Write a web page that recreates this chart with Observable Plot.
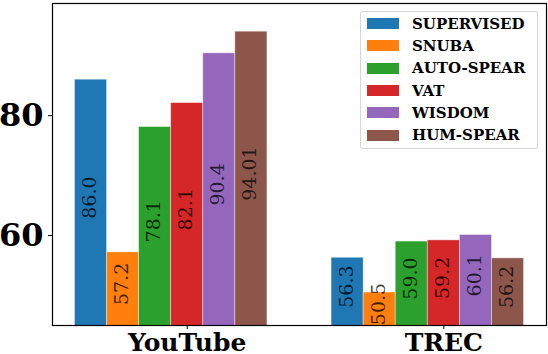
<!DOCTYPE html>
<html>
<head>
<meta charset="utf-8">
<script src="https://cdn.jsdelivr.net/npm/d3@7"></script>
<script src="https://cdn.jsdelivr.net/npm/@observablehq/plot@0.6"></script>
<style>
  html, body { margin: 0; padding: 0; background: #fff; }
  #wrap { position: relative; width: 548px; height: 354px; overflow: hidden; }
  #legend { position: absolute; left: 360px; top: 11px; width: 178px; height: 138px;
    border: 1px solid rgba(204,204,204,0.8); border-radius: 3px; background: rgba(255,255,255,0.8);
    box-sizing: border-box; }
  .row { position: absolute; left: 0; height: 22px; display: flex; align-items: center; }
  .sw { width: 32px; height: 11px; margin-left: 6px; margin-right: 13px; }
  .lb { font-family: "DejaVu Serif"; font-weight: bold; font-size: 15px; color: #000; white-space: nowrap; }
</style>
</head>
<body>
<div id="wrap"></div>
<script>
const groups = ["YouTube", "TREC"];
const methods = ["SUPERVISED", "SNUBA", "AUTO-SPEAR", "VAT", "WISDOM", "HUM-SPEAR"];
const colors = ["#1f77b4", "#ff7f0e", "#2ca02c", "#d62728", "#9467bd", "#8c564b"];
const youtube = [86.0, 57.2, 78.1, 82.1, 90.4, 94.01];
const trec = [56.3, 50.5, 59.0, 59.2, 60.1, 56.2];
const yTicks = [60, 80];
const yDomain = [45, 98.71];

const series = [youtube, trec];
const data = groups.flatMap((g, gi) => series[gi].map((v, i) => ({group: g, gi, method: methods[i], i, value: v})));
const fmt = v => (Math.round(v * 10) === v * 10 ? v.toFixed(1) : String(v));
const W = 0.125;

const chart = Plot.plot({
  width: 548, height: 354,
  marginLeft: 52, marginRight: 2, marginTop: 3, marginBottom: 29,
  x: {type: "linear", domain: [-0.525, 1.4], axis: null},
  y: {domain: yDomain, axis: null},
  color: {domain: methods, range: colors},
  marks: [
    Plot.rect(data, {
      x1: d => d.gi + (d.i - 3.5) * W, x2: d => d.gi + (d.i - 2.5) * W,
      y1: 0, y2: "value", fill: "method",
      stroke: "white", strokeOpacity: 0.5, strokeWidth: 0.8, clip: true
    }),
    Plot.text(data, {
      x: d => d.gi + (d.i - 3) * W, y: d => (yDomain[0] + d.value) / 2,
      text: d => fmt(d.value), rotate: -90, dy: -5, dx: -1,
      fontSize: 19, fontFamily: "DejaVu Serif", fill: "black", fillOpacity: 0.75
    }),
    Plot.frame({stroke: "black", strokeWidth: 1.2}),
    Plot.axisY(yTicks, {
      tickSize: 4, tickPadding: 5, fontSize: 32, fontWeight: "bold",
      fontFamily: "DejaVu Serif", stroke: "black", label: null
    }),
    Plot.axisX([0, 1], {
      tickSize: 4, tickPadding: 4, tickFormat: i => groups[i], fontSize: 25, fontWeight: "bold",
      fontFamily: "DejaVu Serif", stroke: "black", label: null
    })
  ]
});

const wrap = document.getElementById("wrap");
wrap.appendChild(chart);

const legend = document.createElement("div");
legend.id = "legend";
methods.forEach((m, i) => {
  const row = document.createElement("div");
  row.className = "row";
  row.style.top = (0.7 + i * 22.27) + "px";
  const sw = document.createElement("div");
  sw.className = "sw";
  sw.style.background = colors[i];
  const lb = document.createElement("span");
  lb.className = "lb";
  lb.textContent = m;
  row.appendChild(sw);
  row.appendChild(lb);
  legend.appendChild(row);
});
wrap.appendChild(legend);
</script>
</body>
</html>
